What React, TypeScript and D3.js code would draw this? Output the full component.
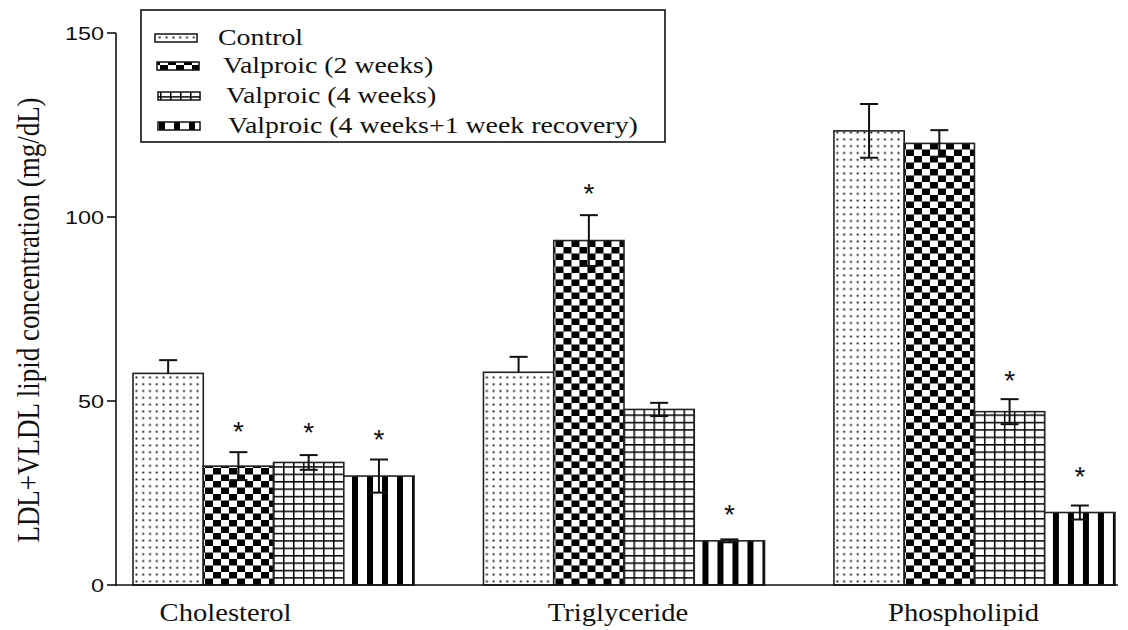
import React from "react";
import * as d3 from "d3";

const categories = ["Cholesterol", "Triglyceride", "Phospholipid"];
const seriesNames = [
  "Control",
  "Valproic (2 weeks)",
  "Valproic (4 weeks)",
  "Valproic (4 weeks+1 week recovery)",
];
const controlMean = [57.5, 57.8, 123.4];
const v2Mean = [32.3, 93.6, 120.0];
const v4Mean = [33.3, 47.7, 47.1];
const recMean = [29.6, 12.0, 19.7];
const controlSem = [3.6, 4.2, 7.3];
const v2Sem = [3.8, 6.9, 3.6];
const v4Sem = [2.0, 1.8, 3.4];
const recSem = [4.5, 0.4, 1.9];
const controlLower = [false, false, true];
const v2Lower = [true, true, true];
const v4Lower = [true, true, true];
const recLower = [true, true, true];
const controlStar: (number | null)[] = [null, null, null];
const v2Star: (number | null)[] = [43.2, 107.8, null];
const v4Star: (number | null)[] = [42.9, null, 57.1];
const recStar: (number | null)[] = [41.0, 20.7, 31.0];
const yTicks = [0, 50, 100, 150];

const means = [controlMean, v2Mean, v4Mean, recMean];
const sems = [controlSem, v2Sem, v4Sem, recSem];
const lowers = [controlLower, v2Lower, v4Lower, recLower];
const stars = [controlStar, v2Star, v4Star, recStar];
const patterns = ["pDots", "pCheck", "pGrid", "pStripe"];

const W = 1128;
const H = 630;
const axisX = 116;
const axisY = 585;

export default function App() {
  const y = d3.scaleLinear().domain([0, 150]).range([585, 33]);
  const xg = d3.scaleBand().domain(categories).range([133, 1115]).paddingInner(0.198).paddingOuter(0);
  const xs = d3.scaleBand().domain(seriesNames).range([0, xg.bandwidth()]).padding(0);
  const serif = "'Liberation Serif', 'Times New Roman', serif";
  const sans = "'Liberation Sans', Arial, sans-serif";
  const legendY = [38, 66, 96, 126];
  const legendSwX = [155, 157, 158, 158];
  const legendTx = [218, 223, 226, 228];
  const labelShift = [-48, -6, -11];

  return (
    <svg width={W} height={H} style={{ position: "absolute", left: 0, top: 0, background: "#fff" }}>
      <defs>
        <pattern id="pDots" width={6.8} height={6.8} patternUnits="userSpaceOnUse">
          <rect width={6.8} height={6.8} fill="#fff" />
          <rect x={2.5} y={2.5} width={1.8} height={1.8} fill="#000" />
        </pattern>
        <pattern id="pCheck" width={16} height={13} patternUnits="userSpaceOnUse">
          <rect width={16} height={13} fill="#fff" />
          <rect x={0} y={0} width={8} height={6.5} fill="#000" />
          <rect x={8} y={6.5} width={8} height={6.5} fill="#000" />
        </pattern>
        <pattern id="pGrid" width={10} height={7.4} patternUnits="userSpaceOnUse">
          <rect width={10} height={7.4} fill="#fff" />
          <rect x={0} y={0} width={1.5} height={7.4} fill="#000" />
          <rect x={0} y={0} width={10} height={1.5} fill="#000" />
        </pattern>
        <pattern id="pStripe" width={15} height={10} patternUnits="userSpaceOnUse">
          <rect width={15} height={10} fill="#fff" />
          <rect x={9} y={0} width={6} height={10} fill="#000" />
        </pattern>
      </defs>

      {/* bars */}
      {categories.map((c, ci) => (
        <g key={c} transform={`translate(${xg(c)},0)`}>
          {seriesNames.map((s, si) => {
            const v = means[si][ci];
            const x0 = xs(s)!;
            const bw = xs.bandwidth();
            return (
              <rect
                key={s}
                x={x0}
                y={y(v)}
                width={bw}
                height={y(0) - y(v)}
                fill={`url(#${patterns[si]})`}
                stroke="#222"
                strokeWidth={1.6}
              />
            );
          })}
          {seriesNames.map((s, si) => {
            const v = means[si][ci];
            const e = sems[si][ci];
            const cx = xs(s)! + xs.bandwidth() / 2;
            const low = lowers[si][ci];
            return (
              <g key={s + "e"} stroke="#111" strokeWidth={2}>
                <line x1={cx} x2={cx} y1={y(v + e)} y2={low ? y(v - e) : y(v)} />
                <line x1={cx - 9} x2={cx + 9} y1={y(v + e)} y2={y(v + e)} />
                {low && <line x1={cx - 9} x2={cx + 9} y1={y(v - e)} y2={y(v - e)} />}
              </g>
            );
          })}
          {seriesNames.map((s, si) => {
            const st = stars[si][ci];
            if (st == null) return null;
            const cx = xs(s)! + xs.bandwidth() / 2;
            return (
              <text key={s + "s"} x={cx} y={y(st) + 15} textAnchor="middle" fontFamily={sans} fontSize={28} fill="#111">
                *
              </text>
            );
          })}
        </g>
      ))}

      {/* axes */}
      <line x1={axisX} x2={axisX} y1={y(150)} y2={axisY + 1} stroke="#111" strokeWidth={1.6} />
      <line x1={axisX} x2={1118} y1={axisY} y2={axisY} stroke="#111" strokeWidth={1.6} />
      {yTicks.map((t) => (
        <g key={t}>
          <line x1={axisX - 9} x2={axisX} y1={y(t)} y2={y(t)} stroke="#111" strokeWidth={1.6} />
          <text
            transform={`translate(104,${y(t) + 6.5}) scale(1.3,1)`}
            textAnchor="end"
            fontFamily={sans}
            fontSize={18}
            fill="#111"
          >
            {t}
          </text>
        </g>
      ))}
      {categories.map((c, ci) => (
        <text
          key={c}
          transform={`translate(${xg(c)! + xg.bandwidth() / 2 + labelShift[ci]},621) scale(1.1,1)`}
          textAnchor="middle"
          fontFamily={serif}
          fontSize={26}
          fill="#111"
        >
          {c}
        </text>
      ))}
      <text
        transform={`translate(39,${(y(150) + y(0)) / 2 + 11}) scale(1.2,1) rotate(-90)`}
        textAnchor="middle"
        fontFamily={serif}
        fontSize={27}
        fill="#111"
      >
        LDL+VLDL lipid concentration (mg/dL)
      </text>

      {/* legend */}
      <rect x={141} y={10} width={524} height={132} fill="#fff" stroke="#111" strokeWidth={1.6} />
      {seriesNames.map((s, si) => (
        <g key={s}>
          <rect x={legendSwX[si]} y={legendY[si] - 4} width={42} height={8} fill={`url(#${patterns[si]})`} stroke="#111" strokeWidth={1.5} />
          <text
            transform={`translate(${legendTx[si]},${legendY[si] + 7}) scale(1.16,1)`}
            fontFamily={serif}
            fontSize={24}
            fill="#111"
          >
            {s}
          </text>
        </g>
      ))}
    </svg>
  );
}
